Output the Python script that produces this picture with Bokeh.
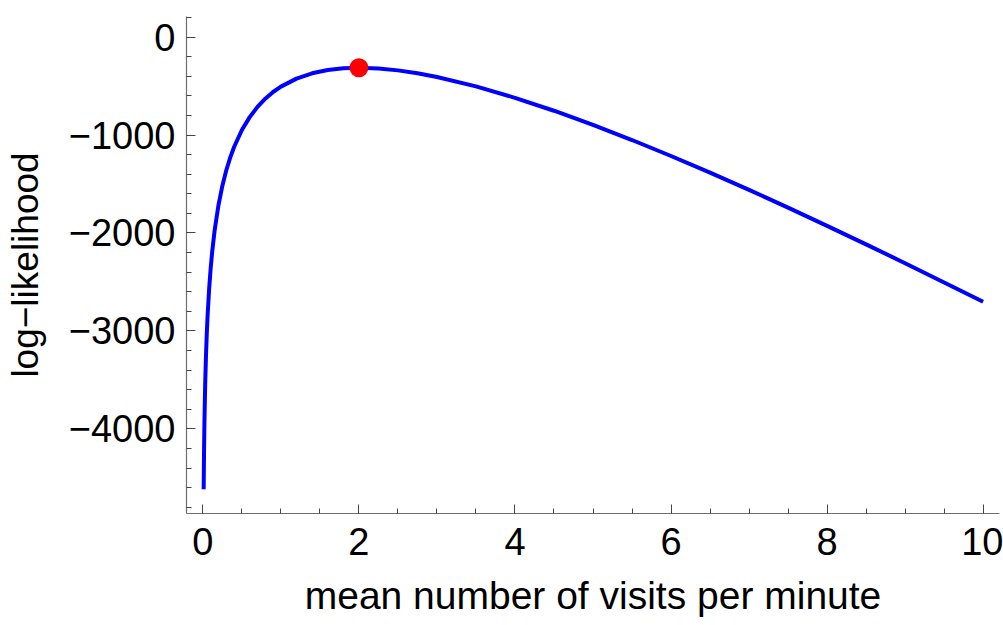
from bokeh.plotting import figure
from bokeh.models import Range1d, FixedTicker
from bokeh.embed import file_html
from bokeh.resources import INLINE

# Curve values
lam = [0.01, 0.015, 0.02, 0.03, 0.04, 0.05, 0.06, 0.08, 0.1, 0.12, 0.15, 0.2, 0.25,
       0.3, 0.35, 0.4, 0.5, 0.6, 0.7, 0.8, 0.9, 1.0, 1.2, 1.4, 1.6, 1.8, 2.0, 2.25,
       2.5, 2.75, 3.0, 3.5, 4.0, 4.5, 5.0, 5.5, 6.0, 6.5, 7.0, 7.5, 8.0, 8.5, 9.0,
       9.5, 10.0]
loglik = [-4616, -4213, -3928, -3528, -3245, -3027, -2849, -2572, -2359, -2186,
          -1978, -1715, -1517, -1360, -1231, -1122, -949, -817, -713, -629, -561,
          -506, -424, -370, -336, -318, -313, -320, -340, -369, -407, -503, -620,
          -752, -897, -1051, -1214, -1384, -1560, -1741, -1927, -2116, -2309,
          -2505, -2703]

# Maximum-likelihood point
mle_x = [2.0]
mle_y = [-313]

x_ticks = [0, 2, 4, 6, 8, 10]
x_tick_labels = ["0", "2", "4", "6", "8", "10"]
x_minor = [0, 0.5, 1, 1.5, 2, 2.5, 3, 3.5, 4, 4.5, 5, 5.5, 6, 6.5, 7, 7.5, 8, 8.5, 9, 9.5, 10]
y_ticks = [0, -1000, -2000, -3000, -4000]
y_tick_labels = ["0", "\u22121000", "\u22122000", "\u22123000", "\u22124000"]
y_minor = [200, 0, -200, -400, -600, -800, -1000, -1200, -1400, -1600, -1800, -2000,
           -2200, -2400, -2600, -2800, -3000, -3200, -3400, -3600, -3800, -4000,
           -4200, -4400, -4600, -4800]

FONT = "Liberation Sans"

p = figure(width=1003, height=625, output_backend="svg", toolbar_location=None,
           x_range=Range1d(-0.21, 10.21), y_range=Range1d(-4864, 210),
           min_border_left=186, min_border_right=4, min_border_top=16,
           min_border_bottom=112)
p.outline_line_color = None
p.xgrid.visible = False
p.ygrid.visible = False
p.background_fill_color = "white"
p.border_fill_color = "white"

p.line(lam, loglik, line_color="#0000ff", line_width=4)
p.scatter(mle_x, mle_y, size=19, fill_color="#ff0000", line_color=None)

for ax in (p.xaxis[0], p.yaxis[0]):
    ax.axis_line_color = "#6e6e6e"
    ax.axis_line_width = 1.2
    ax.major_tick_line_color = "#444444"
    ax.minor_tick_line_color = "#444444"
    ax.major_tick_in = 9
    ax.major_tick_out = 0
    ax.minor_tick_in = 5
    ax.minor_tick_out = 0
    ax.major_label_text_font = FONT
    ax.major_label_text_font_size = "38px"
    ax.major_label_text_color = "black"
    ax.axis_label_text_font = FONT
    ax.axis_label_text_font_style = "normal"
    ax.axis_label_text_color = "black"

p.xaxis[0].axis_label_text_font_size = "39px"
p.yaxis[0].axis_label_text_font_size = "37px"

p.xaxis[0].ticker = FixedTicker(ticks=x_ticks, minor_ticks=x_minor)
p.xaxis[0].major_label_overrides = {t: l for t, l in zip(x_ticks, x_tick_labels)}
p.xaxis[0].major_label_standoff = 14
p.xaxis[0].axis_label = "mean number of visits per minute"
p.xaxis[0].axis_label_standoff = 16

p.yaxis[0].ticker = FixedTicker(ticks=y_ticks, minor_ticks=y_minor)
p.yaxis[0].major_label_overrides = {t: l for t, l in zip(y_ticks, y_tick_labels)}
p.yaxis[0].major_label_standoff = 11
p.yaxis[0].axis_label = "log\u2212likelihood"
p.yaxis[0].axis_label_standoff = 20

open("out.html", "w").write(file_html(p, INLINE))
